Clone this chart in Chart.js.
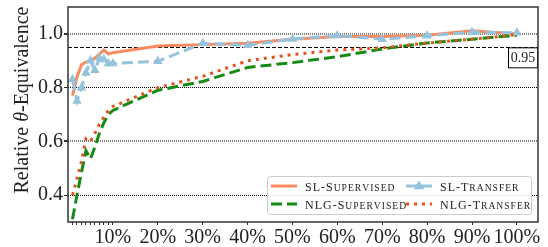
<!DOCTYPE html>
<html>
<head>
<meta charset="utf-8">
<script src="https://cdn.jsdelivr.net/npm/chart.js@4/dist/chart.umd.min.js"></script>
<style>
  html, body { margin: 0; padding: 0; background: #fff; }
</style>
</head>
<body>
<canvas id="chart" width="548" height="247"></canvas>
<script>
// Training data fraction (%) on the x axis
const fractions = [1, 2, 3, 4, 5, 6, 7, 8, 9, 10, 20, 30, 40, 50, 60, 70, 80, 90, 100];

// Relative theta-equivalence per series
const slSupervised = [0.77, 0.84, 0.885, 0.895, 0.90, 0.91, 0.925, 0.94, 0.925, 0.93, 0.955, 0.96, 0.965, 0.98, 0.99, 0.99, 0.995, 1.012, 1.0];
const slTransfer = [0.83, 0.75, 0.80, 0.855, 0.90, 0.865, 0.91, 0.905, 0.89, 0.89, 0.898, 0.965, 0.958, 0.981, 0.994, 0.98, 0.993, 1.006, 1.004];
const nlgSupervised = [0.31, 0.40, 0.485, 0.565, 0.535, 0.58, 0.63, 0.67, 0.70, 0.715, 0.79, 0.823, 0.875, 0.893, 0.915, 0.944, 0.966, 0.98, 0.995];
const nlgTransfer = [0.40, 0.46, 0.525, 0.61, 0.60, 0.63, 0.665, 0.69, 0.715, 0.73, 0.80, 0.842, 0.90, 0.923, 0.94, 0.948, 0.966, 0.98, 0.997];

// Axis ticks
const yTicks = [0.4, 0.6, 0.8, 1.0];
const xTicks = fractions;
const threshold = 0.95;

const FONT = '"Liberation Serif", "Times New Roman", serif';

function points(values) {
    return values.map((v, i) => ({ x: fractions[i], y: v }));
}

// Draw text with small caps (lowercase letters as smaller capitals)
function drawSmallCaps(ctx, text, x, y, size) {
    let cx = x;
    for (const ch of text) {
        const small = ch !== ch.toUpperCase();
        const c = ch.toUpperCase();
        ctx.font = (small ? size * 0.8 : size) + 'px ' + FONT;
        ctx.fillText(c, cx, y);
        cx += ctx.measureText(c).width + 1;
    }
}

// Legend handle for a dataset
function drawHandle(ctx, ds, x, y) {
    ctx.save();
    ctx.strokeStyle = ds.borderColor;
    ctx.lineWidth = ds.borderWidth;
    ctx.setLineDash(ds.borderDash || []);
    ctx.lineCap = 'butt';
    ctx.beginPath();
    ctx.moveTo(x, y);
    ctx.lineTo(x + 26, y);
    ctx.stroke();
    if (ds.pointRadius > 0) {
        ctx.setLineDash([]);
        ctx.fillStyle = ds.pointBackgroundColor;
        const r = ds.pointRadius;
        const cx = x + 13;
        ctx.beginPath();
        ctx.moveTo(cx, y - r);
        ctx.lineTo(cx + r, y + r * 0.6);
        ctx.lineTo(cx - r, y + r * 0.6);
        ctx.closePath();
        ctx.fill();
    }
    ctx.restore();
}

const extras = {
    id: 'extras',
    beforeDatasetsDraw(chart) {
        const ctx = chart.ctx;
        const area = chart.chartArea;
        const yPix = Math.round(chart.scales.y.getPixelForValue(threshold)) + 0.5;
        ctx.save();
        ctx.strokeStyle = '#000';
        ctx.lineWidth = 1;
        ctx.setLineDash([4, 2]);
        ctx.beginPath();
        ctx.moveTo(area.left, yPix);
        ctx.lineTo(area.right, yPix);
        ctx.stroke();
        ctx.restore();
    },
    afterDatasetsDraw(chart) {
        const ctx = chart.ctx;
        const area = chart.chartArea;
        const ds = chart.data.datasets;
        const yPix = chart.scales.y.getPixelForValue(threshold);

        // threshold label box
        ctx.save();
        ctx.fillStyle = '#fff';
        ctx.fillRect(508.5, yPix + 0.5, 29, 20);
        ctx.strokeStyle = '#000';
        ctx.lineWidth = 1;
        ctx.strokeRect(508.5, yPix + 0.5, 29, 20);
        ctx.fillStyle = '#222';
        ctx.font = '14px ' + FONT;
        ctx.textAlign = 'center';
        ctx.textBaseline = 'middle';
        ctx.fillText(threshold.toFixed(2), 523, yPix + 11);
        ctx.restore();

        // legend
        ctx.save();
        ctx.fillStyle = 'rgba(255,255,255,0.85)';
        ctx.strokeStyle = '#cccccc';
        ctx.lineWidth = 1;
        ctx.beginPath();
        ctx.roundRect(267.5, 176.5, 264, 38, 3);
        ctx.fill();
        ctx.stroke();
        const cols = [[0, 2], [1, 3]];
        const colX = [271, 406];
        const rowY = [186, 204];
        ctx.fillStyle = '#222';
        ctx.textBaseline = 'alphabetic';
        cols.forEach((col, c) => {
            col.forEach((idx, r) => {
                const d = ds.find(s => s.legendIndex === idx);
                drawHandle(ctx, d, colX[c], rowY[r]);
                drawSmallCaps(ctx, d.label, colX[c] + 34, rowY[r] + 4.5, 12);
            });
        });
        ctx.restore();

        // axes frame
        ctx.save();
        ctx.strokeStyle = '#333';
        ctx.lineWidth = 1.5;
        ctx.strokeRect(area.left, area.top, area.right - area.left, area.bottom - area.top);
        ctx.restore();

        // y axis title with italic theta
        ctx.save();
        ctx.translate(23, 100);
        ctx.rotate(-Math.PI / 2);
        ctx.fillStyle = '#222';
        ctx.textBaseline = 'middle';
        const parts = [['Relative ', ''], ['θ', 'italic '], ['-Equivalence', '']];
        let total = 0;
        parts.forEach(p => {
            ctx.font = p[1] + '20px ' + FONT;
            total += ctx.measureText(p[0]).width;
        });
        let px = -total / 2;
        parts.forEach(p => {
            ctx.font = p[1] + '20px ' + FONT;
            ctx.fillText(p[0], px, 0);
            px += ctx.measureText(p[0]).width;
        });
        ctx.restore();
    }
};

const datasets = [
    {
        label: 'SL-Supervised', legendIndex: 0, order: 4,
        data: points(slSupervised),
        borderColor: '#f98b5e', borderWidth: 3, pointRadius: 0
    },
    {
        label: 'NLG-Supervised', legendIndex: 2, order: 3,
        data: points(nlgSupervised),
        borderColor: '#158a15', borderWidth: 3, borderDash: [11, 5], pointRadius: 0
    },
    {
        label: 'SL-Transfer', legendIndex: 1, order: 2,
        data: points(slTransfer),
        borderColor: '#95c3de', borderWidth: 3, borderDash: [11, 5],
        pointStyle: 'triangle', pointRadius: 5.5,
        pointBackgroundColor: '#95c3de', pointBorderColor: '#95c3de', pointBorderWidth: 0
    },
    {
        label: 'NLG-Transfer', legendIndex: 3, order: 1,
        data: points(nlgTransfer),
        borderColor: '#e2531f', borderWidth: 3, borderDash: [3, 5], pointRadius: 0
    }
];

const chart = new Chart(document.getElementById('chart').getContext('2d'), {
    type: 'line',
    data: { datasets: datasets },
    options: {
        responsive: false,
        animation: false,
        layout: { padding: { top: 7, right: 10, left: 0, bottom: 0 } },
        plugins: { legend: { display: false }, tooltip: { enabled: false } },
        elements: { line: { tension: 0, borderCapStyle: 'butt' } },
        scales: {
            x: {
                type: 'linear',
                min: 0,
                max: 104.7,
                afterBuildTicks: scale => { scale.ticks = xTicks.map(v => ({ value: v })); },
                afterFit: scale => {
                    scale.height = 25;
                    scale.paddingLeft = 0;
                    scale.paddingRight = 0;
                },
                border: { display: false },
                grid: { drawOnChartArea: false, drawTicks: true, tickLength: 3, tickColor: '#333', tickWidth: 1 },
                ticks: {
                    autoSkip: false, maxRotation: 0, padding: 1, color: '#222',
                    font: { family: FONT, size: 20 },
                    callback: v => (v % 10 === 0 ? v + '%' : '')
                }
            },
            y: {
                min: 0.3,
                max: 1.1,
                afterBuildTicks: scale => { scale.ticks = yTicks.map(v => ({ value: v })); },
                afterFit: scale => {
                    scale.width = 68;
                    scale.paddingTop = 0;
                    scale.paddingBottom = 0;
                },
                border: { display: false, dash: [1, 1] },
                grid: {
                    drawTicks: true, tickLength: 4, tickColor: '#333', tickBorderDash: [],
                    color: c => (c.tick && (c.tick.value === 1.0 || c.tick.value === 0.6) ? 'rgba(0,0,0,0.5)' : '#000'),
                    lineWidth: c => (c.tick && (c.tick.value === 1.0 || c.tick.value === 0.6) ? 2 : 1)
                },
                ticks: {
                    padding: 1, color: '#222',
                    font: { family: FONT, size: 20 },
                    callback: v => v.toFixed(1)
                }
            }
        }
    },
    plugins: [extras]
});
</script>
</body>
</html>
